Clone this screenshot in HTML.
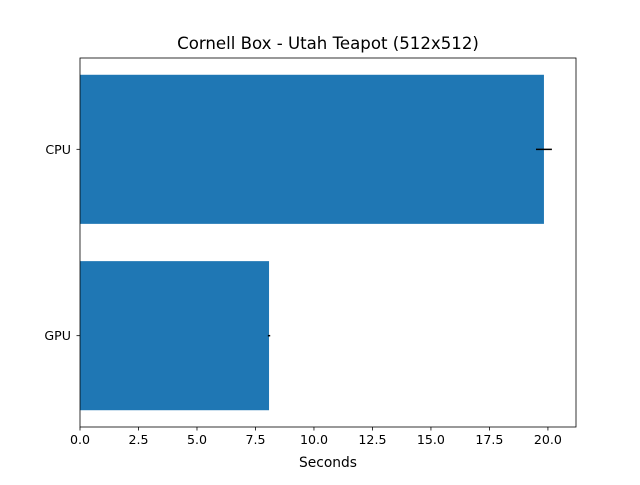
<!DOCTYPE html>
<html><head><meta charset="utf-8"><style>
body{margin:0;background:#fff}
svg text{font-family:"DejaVu Sans","Liberation Sans",sans-serif;fill:#000}
</style></head><body>
<svg id="chart" width="640" height="480" xmlns="http://www.w3.org/2000/svg">
<rect width="640" height="480" fill="#fff"/>
<text x="328" y="49" font-size="16.6" text-anchor="middle">Cornell Box - Utah Teapot (512x512)</text>
<g id="plot"></g>
<text x="328" y="467" font-size="13.8" text-anchor="middle">Seconds</text>
</svg>
<script>
const categories = ["GPU", "CPU"];
const values = [8.08, 19.83];
const errors = [0.05, 0.34];
const xTicks = [0, 2.5, 5, 7.5, 10, 12.5, 15, 17.5, 20];
const xTickLabels = ["0.0","2.5","5.0","7.5","10.0","12.5","15.0","17.5","20.0"];

const L=80,R=576,T=58,B=427;
const xmax=21.2, ymin=-0.49, ymax=1.49;
const xs=v=>L+v/xmax*(R-L);
const ys=v=>B-(v-ymin)/(ymax-ymin)*(B-T);
const g=document.getElementById('plot');
const NS="http://www.w3.org/2000/svg";
function mk(t,a){const e=document.createElementNS(NS,t);for(const k in a)e.setAttribute(k,a[k]);g.appendChild(e);return e;}
categories.forEach((c,i)=>{
  const b=mk('rect',{x:xs(0),y:ys(i+0.4),width:xs(values[i])-xs(0),height:ys(i-0.4)-ys(i+0.4),fill:'#1f77b4'});
  
  
  const e=mk('line',{x1:xs(values[i]-errors[i]),x2:xs(values[i]+errors[i]),y1:ys(i),y2:ys(i),stroke:'#000','stroke-width':1.5});
  
  
  mk('line',{x1:L-3.5,x2:L,y1:ys(i),y2:ys(i),stroke:'#000','stroke-width':0.8});
  const t=mk('text',{x:L-9,y:ys(i)+4.5,'font-size':12.6,'text-anchor':'end'});
  t.textContent=c;
  
  
});
xTicks.forEach((v,i)=>{
  mk('line',{x1:xs(v),x2:xs(v),y1:B,y2:B+3.5,stroke:'#000','stroke-width':0.8});
  const t=mk('text',{x:xs(v),y:B+17,'font-size':12.6,'text-anchor':'middle'});
  t.textContent=xTickLabels[i];
  
  
});
const f=mk('rect',{x:L,y:T,width:R-L,height:B-T,fill:'none',stroke:'#000','stroke-width':0.8});


</script>
</body></html>
